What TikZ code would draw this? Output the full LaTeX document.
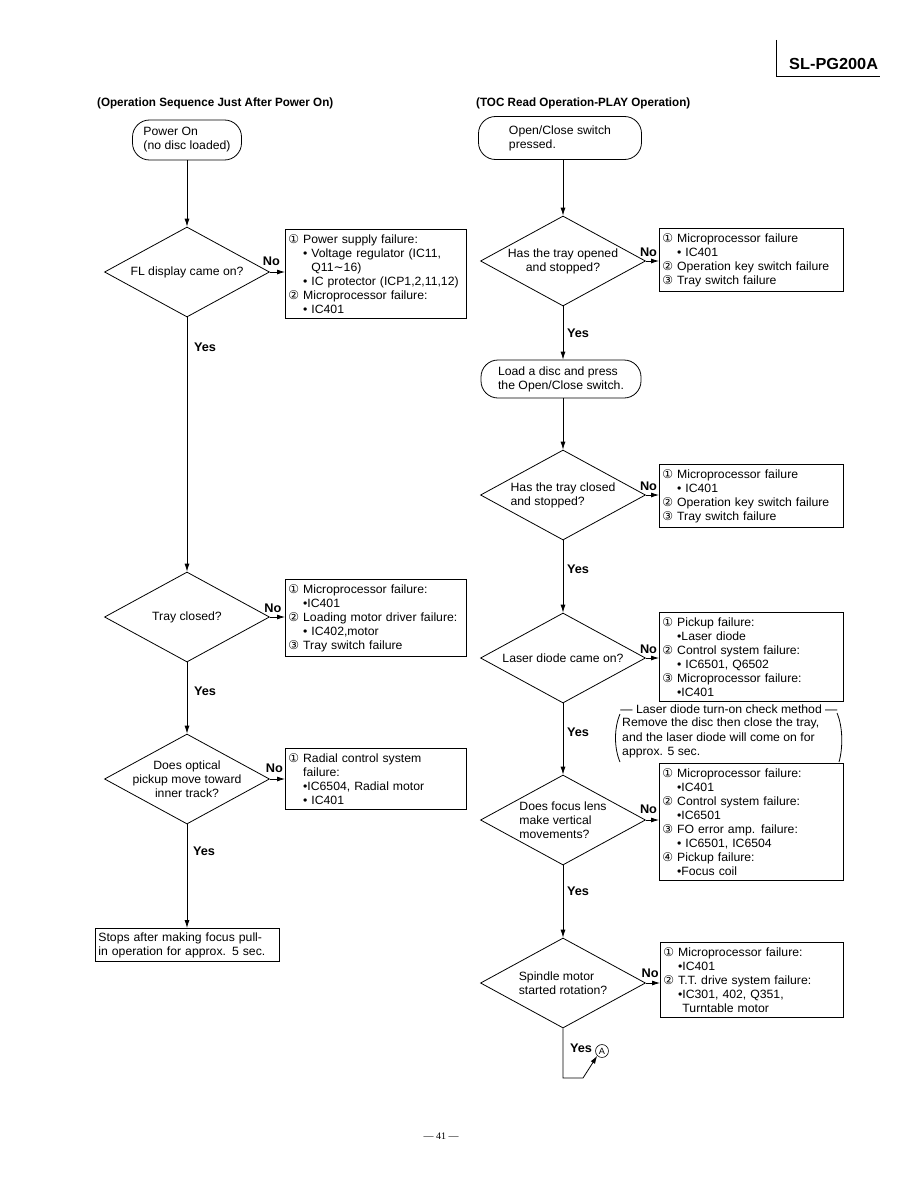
\documentclass[tikz,border=0pt]{standalone}
\usepackage{fontspec}
\setmainfont{Liberation Sans}[FakeStretch=1.02]
\newfontfamily\symfont{DejaVu Sans}
\newfontfamily\headfont{Liberation Sans}[FakeStretch=0.97]
\newfontfamily\pagefont{Liberation Serif}
\usetikzlibrary{arrows.meta, shapes.geometric, positioning}
\newcommand{\cn}[1]{{\symfont #1}}
\newcommand{\ind}{\hphantom{\cn{①}\ }}
\tikzset{
  flow line/.style={
    -{Latex[length=8pt,width=5pt]},
    line width=0.8pt
  },
  plain line/.style={
    line width=0.8pt
  },
  terminal/.style={
    draw,
    line width=0.8pt,
    rounded corners=17pt,
    align=left,
    inner xsep=0pt
  },
  decision/.style={
    draw,
    diamond,
    aspect=1.83,
    align=center,
    line width=0.8pt,
    inner sep=-8pt,
    minimum width=165pt,
    minimum height=90pt
  },
  fail box/.style={
    draw,
    line width=0.8pt,
    anchor=north west,
    align=left,
    inner xsep=3pt,
    inner ysep=5pt,
    text width=#1
  },
  fail box/.default=175pt,
  yes label/.style={
    font=\bfseries\fontsize{12.5}{14}\selectfont,
    inner sep=1pt
  },
  no label/.style={
    font=\bfseries\fontsize{12.5}{14}\selectfont,
    inner sep=1pt,
    anchor=south
  },
  head label/.style={
    font=\headfont\bfseries\fontsize{12}{14}\selectfont,
    anchor=west,
    inner sep=0pt
  }
}

\begin{document}
\begin{tikzpicture}[x=1pt, y=-1pt, font=\fontsize{12}{14}\selectfont]
    \useasboundingbox (0,0) rectangle (918,1188);

    % model number
    \draw[plain line] (776,40) -- (776,76) -- (880,76);
    \node[font=\bfseries\fontsize{16}{18}\selectfont, anchor=base west, inner sep=0pt] (model) at (789,70) {SL-PG200A};

    % headings
    \node[head label] (lhead) at (97,103) {(Operation Sequence Just After Power On)};
    \node[head label] (rhead) at (476,103) {(TOC Read Operation-PLAY Operation)};

    % 1. left column
    \node[terminal, minimum width=109pt, minimum height=40pt] (pwr) at (187,140) {Power On\\(no disc loaded)};
    \node[decision] (fl) at (187,272) {FL display came on?};
    \node[fail box] (flx) at (285,229) {\cn{①} Power supply failure:\\
      \ind • Voltage regulator (IC11,\\
      \ind\hphantom{• }Q11{\symfont ∼}16)\\
      \ind • IC protector (ICP1,2,11,12)\\
      \cn{②} Microprocessor failure:\\
      \ind • IC401};
    \node[decision] (tray) at (187,617) {Tray closed?};
    \node[fail box] (trayx) at (285,579) {\cn{①} Microprocessor failure:\\
      \ind •IC401\\
      \cn{②} Loading motor driver failure:\\
      \ind • IC402,motor\\
      \cn{③} Tray switch failure};
    \node[decision] (pick) at (187,779) {Does optical\\pickup move toward\\inner track?};
    \node[fail box] (pickx) at (285,748) {\cn{①} Radial control system\\
      \ind failure:\\
      \ind •IC6504, Radial motor\\
      \ind • IC401};
    \node[fail box=178pt, inner ysep=4pt] (stop) at (95,928) {Stops after making focus pull-\\in operation for approx. 5 sec.};

    \draw[flow line] (pwr.south) -- (fl.north);
    \draw[flow line] (fl.east) -- (fl.east -| flx.west) node[no label, pos=0.1, above=5pt] {No};
    \draw[flow line] (fl.south) -- (tray.north);
    \node[yes label] (fly) at ([xshift=18pt, yshift=-30pt]fl.south) {Yes};
    \draw[flow line] (tray.east) -- (tray.east -| trayx.west) node[no label, pos=0.2, above=3pt] {No};
    \draw[flow line] (tray.south) -- (tray.south |- pick.north);
    \node[yes label] (tray y) at ([xshift=18pt, yshift=-29pt]tray.south) {Yes};
    \draw[flow line] (pick.east) -- (pick.east -| pickx.west) node[no label, pos=0.3, above=5pt] {No};
    \draw[flow line] (pick.south) -- (pick.south |- stop.north);
    \node[yes label] (picky) at ([xshift=17pt, yshift=-27pt]pick.south) {Yes};

    % 2. right column
    \node[terminal, minimum width=163pt, minimum height=43pt] (opn) at (560,138) {Open/Close switch\\pressed.};
    \node[decision] (opd) at (563,261) {Has the tray opened\\and stopped?};
    \node[fail box=178pt] (opdx) at (659,228) {\cn{①} Microprocessor failure\\
      \ind • IC401\\
      \cn{②} Operation key switch failure\\
      \cn{③} Tray switch failure};
    \node[terminal, minimum width=160pt, minimum height=38pt] (load) at (561,379) {Load a disc and press\\the Open/Close switch.};
    \node[decision, align=left] (cld) at (563,495) {Has the tray closed\\and stopped?};
    \node[fail box=178pt] (cldx) at (659,464) {\cn{①} Microprocessor failure\\
      \ind • IC401\\
      \cn{②} Operation key switch failure\\
      \cn{③} Tray switch failure};
    \node[decision] (ld) at (563,658) {Laser diode came on?};
    \node[fail box=178pt] (ldx) at (659,612) {\cn{①} Pickup failure:\\
      \ind •Laser diode\\
      \cn{②} Control system failure:\\
      \ind • IC6501, Q6502\\
      \cn{③} Microprocessor failure:\\
      \ind •IC401};
    % check method note
    \node[inner sep=0pt] (chk) at (729,709) {— Laser diode turn-on check method —};
    \node[anchor=north west, align=left, inner sep=0pt, font=\fontsize{12}{14.5}\selectfont] (chknote) at (622,718) {Remove the disc then close the tray,\\and the laser diode will come on for\\approx. 5 sec.};
    \draw[plain line] (620,714) .. controls (614,728) and (614,748) .. (620,762);
    \draw[plain line] (837,713) .. controls (843,727) and (843,748) .. (839,762);
    \node[decision, align=left] (fcs) at (563,820) {Does focus lens\\make vertical\\movements?};
    \node[fail box=178pt] (fcsx) at (659,763) {\cn{①} Microprocessor failure:\\
      \ind •IC401\\
      \cn{②} Control system failure:\\
      \ind •IC6501\\
      \cn{③} FO error amp. failure:\\
      \ind • IC6501, IC6504\\
      \cn{④} Pickup failure:\\
      \ind •Focus coil};
    \node[decision, align=left] (spd) at (563,983) {Spindle motor\\started rotation?};
    \node[fail box=177pt] (spdx) at (660,942) {\cn{①} Microprocessor failure:\\
      \ind •IC401\\
      \cn{②} T.T. drive system failure:\\
      \ind •IC301, 402, Q351,\\
      \ind\hphantom{•}Turntable motor};

    \draw[flow line] (opn.south -| opd.north) -- (opd.north);
    \draw[flow line] (opd.east) -- (opd.east -| opdx.west) node[no label, pos=0.2, above=3pt] {No};
    \draw[flow line] (opd.south) -- (opd.south |- load.north);
    \node[yes label] (opdy) at ([xshift=15pt, yshift=-27pt]opd.south) {Yes};
    \draw[flow line] (load.south -| cld.north) -- (cld.north);
    \draw[flow line] (cld.east) -- (cld.east -| cldx.west) node[no label, pos=0.2, above=3pt] {No};
    \draw[flow line] (cld.south) -- (ld.north);
    \node[yes label] (cldy) at ([xshift=15pt, yshift=-29pt]cld.south) {Yes};
    \draw[flow line] (ld.east) -- (ld.east -| ldx.west) node[no label, pos=0.2, above=3pt] {No};
    \draw[flow line] (ld.south) -- (fcs.north);
    \node[yes label] (ldy) at ([xshift=15pt, yshift=-29pt]ld.south) {Yes};
    \draw[flow line] (fcs.east) -- (fcs.east -| fcsx.west) node[no label, pos=0.2, above=5pt] {No};
    \draw[flow line] (fcs.south) -- (spd.north);
    \node[yes label] (fcsy) at ([xshift=15pt, yshift=-26pt]fcs.south) {Yes};
    \draw[flow line] (spd.east) -- (spd.east -| spdx.west) node[no label, pos=0.3, above=4pt] {No};

    % continuation mark A
    \node[yes label] (spdy) at ([xshift=18pt, yshift=-20pt]spd.south) {Yes};
    \node[circle, draw, line width=0.6pt, inner sep=1.5pt, font=\fontsize{9}{10}\selectfont] (markA) at (602,1051) {A};
    \coordinate (bend1) at (563,1078);
    \coordinate (bend2) at (583,1078);
    \draw[flow line] (spd.south) -- (bend1) -- (bend2) -- (markA.south west);

    % page number
    \node[font=\pagefont\fontsize{10}{12}\selectfont] (pg) at (441,1136) {— 41 —};

\end{tikzpicture}
\end{document}
